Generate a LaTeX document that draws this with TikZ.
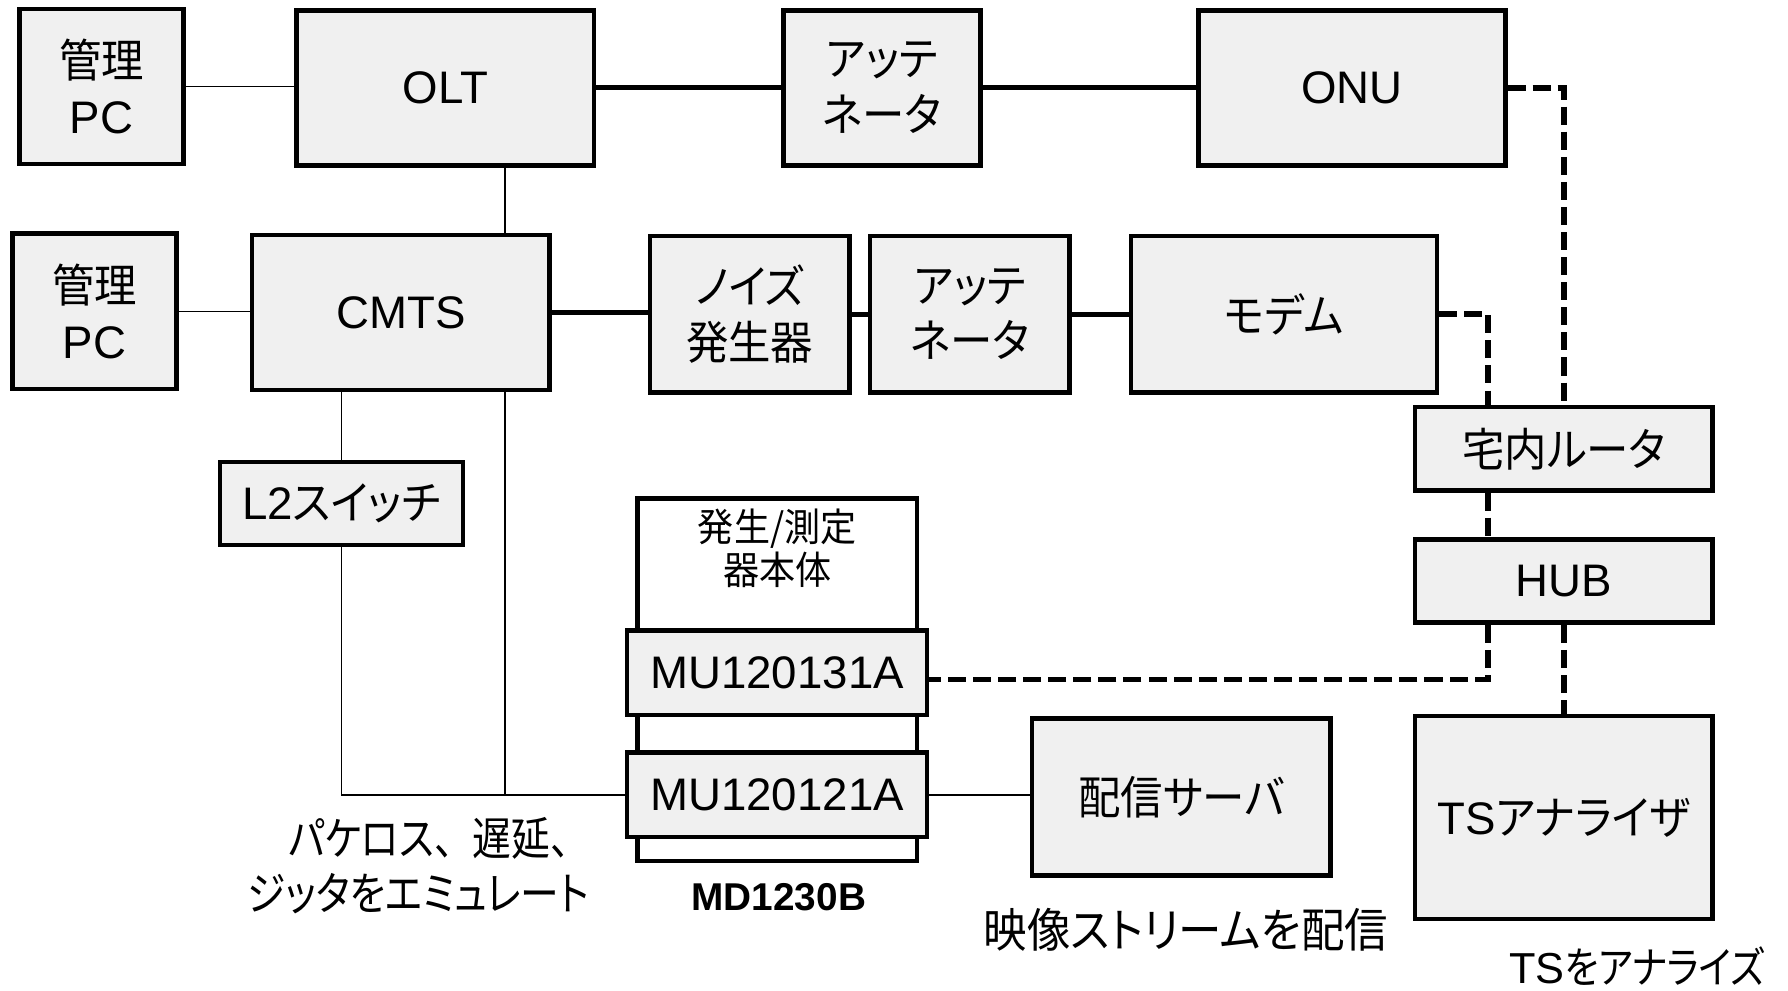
\documentclass[tikz,border=0pt]{standalone}
\usepackage{fontspec}
\setmainfont{Liberation Sans}
\newfontfamily\jp[RawFeature={+palt},FakeStretch=0.93]{Noto Sans CJK JP}
\newfontfamily\jpn[RawFeature={+palt},FakeStretch=0.85]{Noto Sans CJK JP}
\newfontfamily\jpf[FakeStretch=0.85]{Noto Sans CJK JP}
\definecolor{boxgray}{HTML}{F0F0F0}
\begin{document}
\begin{tikzpicture}[x=0.5pt,y=-0.5pt,
  box/.style={draw, line width=2pt, fill=boxgray, inner sep=0pt, align=center, font=\fontsize{20}{24.5}\selectfont},
  sz/.style 2 args={minimum width=#1*0.5pt-2pt, minimum height=#2*0.5pt-2pt},
  thinline/.style={line width=0.7pt},
  thickline/.style={line width=2.2pt},
  dashline/.style={line width=2.5pt, dash pattern=on 7.9pt off 3.1pt},
  lbl/.style={inner sep=0pt, align=center, font=\fontsize{20}{24}\selectfont}
]
\useasboundingbox (0,0) rectangle (1568,869);
\node[box, sz={148}{140}] (pc1) at (89,76) {{\jp 管理}\\PC};
\node[box, sz={265}{140}] (olt) at (390.5,77) {OLT};
\node[box, sz={177}{140}] (att1) at (773.5,77) {\jp アッテ\\\jp ネータ};
\node[box, sz={273}{140}] (onu) at (1185.5,77) {ONU};
\node[box, sz={148}{140}] (pc2) at (83,273) {{\jp 管理}\\PC};
\node[box, sz={265}{140}] (cmts) at (351.5,274) {CMTS};
\node[box, sz={179}{141}] (noise) at (657.5,275.5) {\jp ノイズ\\\jp 発生器};
\node[box, sz={179}{141}] (att2) at (850.5,275.5) {\jp アッテ\\\jp ネータ};
\node[box, sz={272}{141}] (modem) at (1126,275.5) {\jp モデム};
\node[box, sz={265}{77}] (router) at (1371.5,393.5) {\jp 宅内ルータ};
\node[box, sz={265}{77}] (hub) at (1371.5,509.5) {HUB};
\node[box, sz={265}{182}] (ts) at (1371.5,717) {TS{\jp アナライザ}};
\node[box, sz={217}{77}] (l2) at (299.5,441.5) {L2{\jp スイッチ}};
\node[box, fill=white, sz={249}{322}] (main) at (681.5,596) {};
\node[lbl, font=\jp\fontsize{17}{19}\selectfont] (mainlbl) at (681.5,481) {発生/測定\\器本体};
\node[box, sz={267}{78}] (mu131) at (681.5,590) {MU120131A};
\node[box, sz={267}{78}] (mu121) at (681.5,697) {MU120121A};
\node[box, sz={266}{142}] (server) at (1036,699) {\jp 配信サーバ};
\node[lbl, anchor=east, align=right, font=\jpn\fontsize{20}{24}\selectfont] (emu) at (517,759) {パケロス{\jpf 、}遅延{\jpf 、}\\ジッタをエミュレート};
\node[lbl, font=\bfseries\fontsize{17}{21}\selectfont] (md) at (683,787) {MD1230B};
\node[lbl, font=\jp\fontsize{20.5}{24}\selectfont] (stream) at (1040,815) {映像ストリームを配信};
\node[lbl, anchor=east, font=\fontsize{19}{23}\selectfont] (tsan) at (1548,847) {TS{\jpn をアナライズ}};
\coordinate (vx) at (443,0);
\coordinate (vr) at (1305,0);
\draw[thinline] (pc1.east) -- (pc1.east -| olt.west);
\draw[thickline] (olt.east) -- (att1.west);
\draw[thickline] (att1.east) -- (onu.west);
\draw[dashline] (onu.east) -| (router.north);
\draw[thinline] (olt.south -| vx) -- (cmts.north -| vx);
\draw[thinline] (pc2.east) -- (pc2.east -| cmts.west);
\draw[thickline] (cmts.east) -- (cmts.east -| noise.west);
\draw[thickline] (noise.east) -- (att2.west);
\draw[thickline] (att2.east) -- (modem.west);
\draw[dashline] (modem.east) -| (router.north -| vr);
\draw[dashline] (router.south -| vr) -- (hub.north -| vr);
\draw[dashline] (hub.south -| vr) |- ([yshift=-3pt]mu131.east);
\draw[dashline] (hub.south) -- (ts.north);
\draw[thinline] (l2.north) -- (l2.north |- cmts.south);
\draw[thinline] (l2.south) |- (mu121.west);
\draw[thinline] (cmts.south -| vx) -- (vx |- mu121.west);
\draw[thinline] (mu121.east) -- (mu121.east -| server.west);
\end{tikzpicture}
\end{document}
